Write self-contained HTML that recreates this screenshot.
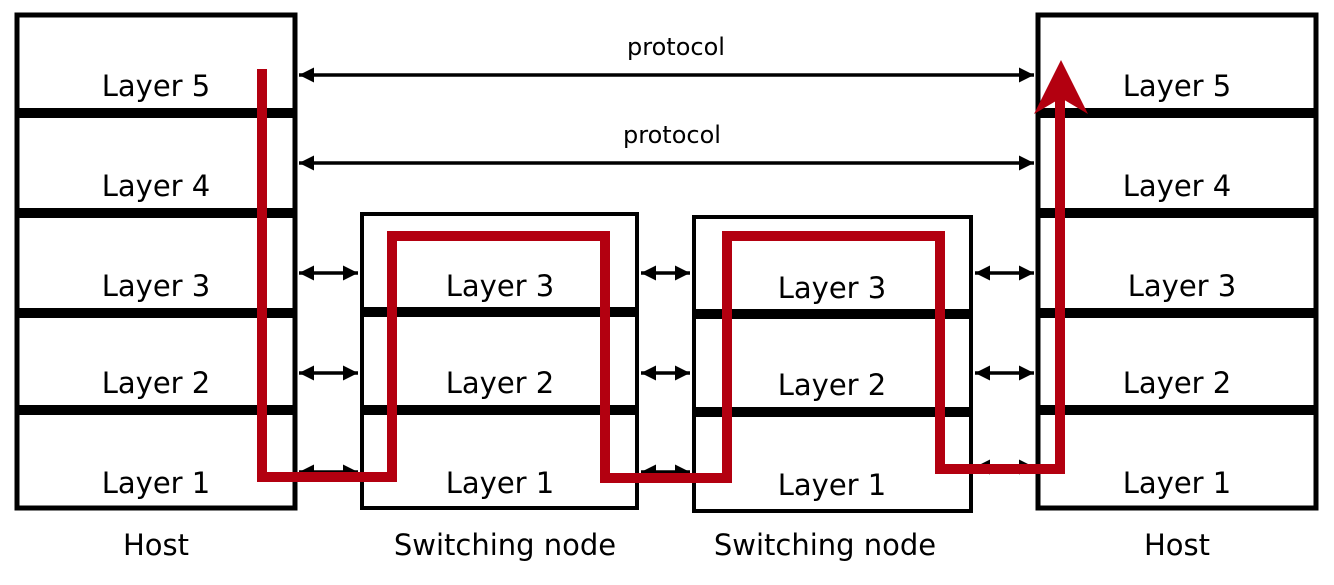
<!DOCTYPE html>
<html><head><style>
body{margin:0;background:#fff;}
svg text{font-family:"DejaVu Sans","Liberation Sans",sans-serif;fill:#000;}
</style></head><body>
<svg width="1334" height="580" viewBox="0 0 1334 580" xmlns="http://www.w3.org/2000/svg">
<defs>
<marker id="a" viewBox="0 0 10 10" refX="10" refY="5" markerWidth="15" markerHeight="15" orient="auto-start-reverse" markerUnits="userSpaceOnUse"><path d="M0,0 L10,5 L0,10 z" fill="#000"/></marker>
</defs>
<g fill="none" stroke="#000">
<rect x="17" y="15" width="278" height="493" stroke-width="5"/>
<rect x="1038" y="15" width="278" height="493" stroke-width="5"/>
<rect x="362" y="214" width="275" height="294" stroke-width="4"/>
<rect x="694" y="217" width="277" height="294" stroke-width="4"/>
<g stroke-width="10">
<line x1="15" y1="113" x2="297" y2="113"/><line x1="15" y1="213" x2="297" y2="213"/>
<line x1="15" y1="313" x2="297" y2="313"/><line x1="15" y1="410" x2="297" y2="410"/>
<line x1="1036" y1="113" x2="1318" y2="113"/><line x1="1036" y1="213" x2="1318" y2="213"/>
<line x1="1036" y1="313" x2="1318" y2="313"/><line x1="1036" y1="410" x2="1318" y2="410"/>
<line x1="360" y1="312" x2="639" y2="312"/><line x1="360" y1="410" x2="639" y2="410"/>
<line x1="692" y1="314" x2="973" y2="314"/><line x1="692" y1="412" x2="973" y2="412"/>
</g>
<g stroke-width="3.5">
<line x1="299" y1="75" x2="1034" y2="75" marker-start="url(#a)" marker-end="url(#a)"/>
<line x1="299" y1="163" x2="1034" y2="163" marker-start="url(#a)" marker-end="url(#a)"/>
<line x1="299" y1="273" x2="358" y2="273" marker-start="url(#a)" marker-end="url(#a)"/>
<line x1="299" y1="373" x2="358" y2="373" marker-start="url(#a)" marker-end="url(#a)"/>
<line x1="299" y1="472" x2="358" y2="472" marker-start="url(#a)" marker-end="url(#a)"/>
<line x1="641" y1="273" x2="690" y2="273" marker-start="url(#a)" marker-end="url(#a)"/>
<line x1="641" y1="373" x2="690" y2="373" marker-start="url(#a)" marker-end="url(#a)"/>
<line x1="641" y1="472" x2="690" y2="472" marker-start="url(#a)" marker-end="url(#a)"/>
<line x1="975" y1="273" x2="1034" y2="273" marker-start="url(#a)" marker-end="url(#a)"/>
<line x1="975" y1="373" x2="1034" y2="373" marker-start="url(#a)" marker-end="url(#a)"/>
<line x1="975" y1="467" x2="1034" y2="467" marker-start="url(#a)" marker-end="url(#a)"/>
</g>
</g>
<polyline points="262,69 262,477 392,477 392,236 605,236 605,478 727,478 727,236 940,236 940,469 1060,469 1060,95" fill="none" stroke="#b30010" stroke-width="10"/>
<polygon points="1061,60 1034,114 1061,98 1088,114" fill="#b30010"/>
<g font-size="29" text-anchor="middle">
<text x="156" y="96">Layer 5</text><text x="156" y="196">Layer 4</text>
<text x="156" y="296">Layer 3</text><text x="156" y="393">Layer 2</text>
<text x="156" y="493">Layer  1</text>
<text x="1177" y="96">Layer 5</text><text x="1177" y="196">Layer 4</text>
<text x="1182" y="296">Layer 3</text><text x="1177" y="393">Layer 2</text>
<text x="1177" y="493">Layer 1</text>
<text x="500" y="296">Layer 3</text><text x="500" y="393">Layer 2</text><text x="500" y="493">Layer 1</text>
<text x="832" y="298">Layer 3</text><text x="832" y="395">Layer 2</text><text x="832" y="495">Layer 1</text>
<text x="156" y="555">Host</text><text x="1177" y="555">Host</text>
<text x="505" y="555">Switching node</text><text x="825" y="555">Switching node</text>
</g>
<g font-size="24" text-anchor="middle">
<text x="676" y="55">protocol</text><text x="672" y="143">protocol</text>
</g>
</svg>
</body></html>
